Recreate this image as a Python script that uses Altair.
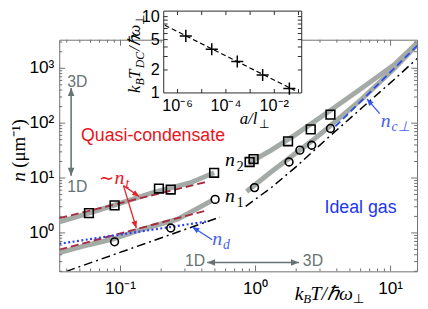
import altair as alt
import pandas as pd

# ---------------- data ----------------
# main panel: x = k_B T / hbar w_perp, y = n (um^-1)
N2_LOW_T = [0.0353, 0.0584, 0.0889, 0.174, 0.330, 0.4935]
N2_LOW_N = [1.58, 2.29, 3.18, 5.45, 8.23, 12.45]
N2_HIGH_T = [0.889, 1.309, 1.992, 3.467, 6.141, 10.69, 15.74]
N2_HIGH_N = [18.8, 32.2, 62.4, 161.6, 435.6, 1175, 2917]
N1_LOW_T = [0.0353, 0.0584, 0.0889, 0.140, 0.265, 0.330, 0.4775]
N1_LOW_N = [0.4375, 0.609, 0.780, 1.132, 1.784, 2.38, 3.91]
N1_HIGH_T = [0.859, 1.309, 1.992, 2.650, 3.467, 6.141, 10.69, 15.74]
N1_HIGH_N = [5.68, 12.98, 28.5, 48.7, 83.4, 276.5, 996, 2686]

SQ_T = [0.0584, 0.0904, 0.1926, 0.2355, 0.4935, 0.904, 0.967, 1.741, 2.563, 3.587]
SQ_N = [2.29, 3.18, 6.43, 6.17, 12.45, 19.6, 22.2, 46.7, 76.8, 142.7]
CI_T = [0.0904, 0.2355, 0.502, 0.983, 1.771, 2.130, 2.607, 3.587]
CI_N = [0.689, 1.23, 4.08, 6.70, 19.6, 32.2, 39.6, 80.0]

NT_UP_T = [0.0353, 0.4385]
NT_UP_N = [1.86, 8.58]
NT_LO_T = [0.0353, 0.4385]
NT_LO_N = [0.495, 2.59]
ND_T = [0.0353, 0.454]
ND_N = [0.635, 1.64]
IDEAL1D_T = [0.0397, 0.5455]
IDEAL1D_N = [0.1995, 1.94]
IDEAL3D_T = [0.845, 1.309, 1.992, 3.467, 6.141, 10.69, 15.74]
IDEAL3D_N = [3.053, 6.70, 15.96, 55.1, 190.6, 632, 1506]
NC_T = [3.90, 15.74]
NC_N = [86.9, 2578]

X_TICKS = [0.1, 1, 10]
X_LABELS = ["10⁻¹", "10⁰", "10¹"]
Y_TICKS = [1, 10, 100, 1000]
Y_LABELS = ["10⁰", "10¹", "10²", "10³"]
X_DOMAIN = [0.0352, 15.7]
Y_DOMAIN = [0.1995, 3311]

# inset: x = a / l_perp, y = k_B T_DC / hbar w_perp
IN_A = [2.2e-6, 2.6e-5, 2.95e-4, 3.3e-3, 4.2e-2]
IN_T = [5.59, 3.74, 2.58, 1.72, 1.14]
FIT_A = [2.98e-7, 0.0708]
FIT_T = [7.70, 1.079]
IX_TICKS = [1e-6, 1e-4, 1e-2]
IX_LABELS = ["10⁻⁶", "10⁻⁴", "10⁻²"]
IY_TICKS = [1, 2, 5, 10]
IY_LABELS = ["1", "2", "5", "10"]
IX_DOMAIN = [2.69e-7, 0.136]
IY_DOMAIN = [1, 11.8]

# annotation arrows (data coordinates)
V_ARROW = [(0.0431, 435.6), (0.0431, 11.0)]
H_ARROW = [(0.4385, 0.2893), (2.095, 0.2893)]
NT_ARROW_1 = [(0.1052, 7.275), (0.1376, 4.616)]
NT_ARROW_2 = [(0.1052, 7.275), (0.1309, 1.23)]
ND_ARROW = [(0.4775, 0.7485), (0.341, 1.281)]
NC_ARROW = [(8.31, 148.7), (6.68, 276.5)]

# ---------------- styles ----------------
SANS = "Liberation Sans"
SERIF = "Liberation Serif"
GRAY_CURVE = "#a4aaa6"
DARK_RED = "#a82a3e"
RED = "#e8141c"
BLUE = "#2236f0"
LIGHT_BLUE = "#4862ee"
ANNOT_GRAY = "#687373"
FRAME = "#707070"
W, H = 363, 235
LEFT, TOP = 60, 38          # page position of the plot area
HEAD = "M0,0L-0.42,1L0.42,1Z"

XS = alt.Scale(type="log", domain=X_DOMAIN, nice=False)
YS = alt.Scale(type="log", domain=Y_DOMAIN, nice=False)
IXS = alt.Scale(type="log", domain=IX_DOMAIN, nice=False, range=[166 - LEFT, 306 - LEFT])
IYS = alt.Scale(type="log", domain=IY_DOMAIN, nice=False, range=[92 - TOP, 9 - TOP])


def segs(*pairs):
    frames = []
    for k, (ts, ns) in enumerate(pairs):
        frames.append(pd.DataFrame({"T": ts, "n": ns, "k": k, "i": range(len(ts))}))
    return pd.concat(frames, ignore_index=True)


def lines(df, xs=XS, ys=YS, **mk):
    return alt.Chart(df).mark_line(clip=True, **mk).encode(
        x=alt.X("T:Q", scale=xs, axis=None), y=alt.Y("n:Q", scale=ys, axis=None),
        detail="k:N", order="i:Q")


def arrow(pts, color, angles, width=1.4, hsize=196):
    df = pd.DataFrame({"T": [p[0] for p in pts], "n": [p[1] for p in pts], "k": 0, "i": [0, 1]})
    shaft = lines(df, color=color, strokeWidth=width)
    heads = pd.DataFrame({"T": [pts[j][0] for j in angles], "n": [pts[j][1] for j in angles],
                          "a": [angles[j] for j in angles]})
    hd = alt.Chart(heads).mark_point(shape=HEAD, filled=True, size=hsize, color=color,
                                     opacity=1, strokeWidth=0).encode(
        x=alt.X("T:Q", scale=XS, axis=None), y=alt.Y("n:Q", scale=YS, axis=None),
        angle=alt.Angle("a:Q", scale=None))
    return [shaft, hd]


def dtext(x, y, s, size, color, italic=False, font=SANS, dx=0, dy=0, align="left",
          baseline="alphabetic", xs=XS, ys=YS):
    xs_ = x if isinstance(x, list) else [x]
    ys_ = y if isinstance(y, list) else [y]
    ss_ = s if isinstance(s, list) else [s]
    n = max(len(xs_), len(ys_), len(ss_))
    df = pd.DataFrame({"x": xs_ * (n // len(xs_)), "y": ys_ * (n // len(ys_)),
                       "s": ss_ * (n // len(ss_))})
    return alt.Chart(df).mark_text(
        align=align, baseline=baseline, font=font, fontSize=size, color=color,
        fontStyle="italic" if italic else "normal", dx=dx, dy=dy).encode(
        x=alt.X("x:Q", scale=xs, axis=None), y=alt.Y("y:Q", scale=ys, axis=None), text="s:N")


def ptext(px, py, s, size, italic=True, angle=0, color="black", font=SERIF):
    return alt.Chart(pd.DataFrame({"s": [s]})).mark_text(
        align="left", baseline="alphabetic", font=font, fontSize=size, color=color,
        fontStyle="italic" if italic else "normal", angle=angle).encode(
        x=alt.value(px - LEFT), y=alt.value(py - TOP), text="s:N")


def ticks(values, edge, length, sign, orient, xs, ys, color):
    df = pd.DataFrame({"v": values, "e": [edge] * len(values)})
    if orient == "vertical":
        return alt.Chart(df).mark_tick(orient="vertical", size=length, thickness=1, color=color,
                                       opacity=1, yOffset=sign * length / 2).encode(
            x=alt.X("v:Q", scale=xs, axis=None), y=alt.Y("e:Q", scale=ys, axis=None))
    return alt.Chart(df).mark_tick(orient="horizontal", size=length, thickness=1, color=color,
                                   opacity=1, xOffset=sign * length / 2).encode(
        x=alt.X("e:Q", scale=xs, axis=None), y=alt.Y("v:Q", scale=ys, axis=None))


mx_minor = [m * 10 ** e for e in (-2, -1, 0, 1) for m in range(2, 10)
            if X_DOMAIN[0] < m * 10 ** e < X_DOMAIN[1]]
my_minor = [m * 10 ** e for e in (-1, 0, 1, 2, 3) for m in range(2, 10)
            if Y_DOMAIN[0] < m * 10 ** e < Y_DOMAIN[1]]

main_layers = [
    lines(segs((N2_LOW_T, N2_LOW_N), (N2_HIGH_T, N2_HIGH_N), (N1_LOW_T, N1_LOW_N),
               (N1_HIGH_T, N1_HIGH_N)), color=GRAY_CURVE, strokeWidth=5),
    lines(segs((NT_UP_T, NT_UP_N), (NT_LO_T, NT_LO_N)), color=DARK_RED, strokeWidth=1.9,
          strokeDash=[8, 4]),
    lines(segs((ND_T, ND_N)), color="#2b40f5", strokeWidth=2.2, strokeDash=[2, 2.5]),
    lines(segs((IDEAL1D_T, IDEAL1D_N), (IDEAL3D_T, IDEAL3D_N)), color="black",
          strokeWidth=1.5, strokeDash=[9, 4, 2, 4]),
    lines(segs((NC_T, NC_N)), color="#2a4de8", strokeWidth=1.8, strokeDash=[7, 4]),
    alt.Chart(pd.DataFrame({"T": SQ_T, "n": SQ_N})).mark_point(
        shape="square", filled=False, size=78, color="black", strokeWidth=1.6, opacity=1).encode(
        x=alt.X("T:Q", scale=XS, axis=None), y=alt.Y("n:Q", scale=YS, axis=None)),
    alt.Chart(pd.DataFrame({"T": CI_T, "n": CI_N})).mark_point(
        shape="circle", filled=False, size=62, color="black", strokeWidth=1.6, opacity=1).encode(
        x=alt.X("T:Q", scale=XS, axis=None), y=alt.Y("n:Q", scale=YS, axis=None)),
    # inward frame ticks
    ticks(X_TICKS, Y_DOMAIN[0], 6, -1, "vertical", XS, YS, FRAME),
    ticks(mx_minor, Y_DOMAIN[0], 3, -1, "vertical", XS, YS, FRAME),
    ticks(X_TICKS, Y_DOMAIN[1], 6, 1, "vertical", XS, YS, FRAME),
    ticks(mx_minor, Y_DOMAIN[1], 3, 1, "vertical", XS, YS, FRAME),
    ticks(Y_TICKS, X_DOMAIN[0], 6, 1, "horizontal", XS, YS, FRAME),
    ticks(my_minor, X_DOMAIN[0], 3, 1, "horizontal", XS, YS, FRAME),
    ticks(Y_TICKS, X_DOMAIN[1], 6, -1, "horizontal", XS, YS, FRAME),
    ticks(my_minor, X_DOMAIN[1], 3, -1, "horizontal", XS, YS, FRAME),
    # tick labels
    dtext(X_TICKS, Y_DOMAIN[0], X_LABELS, 17.5, "black", align="center", dy=23),
    dtext(X_DOMAIN[0], Y_TICKS, Y_LABELS, 17.5, "black", align="right", baseline="middle",
          dx=-5),
]
main_layers += arrow(V_ARROW, ANNOT_GRAY, {0: 0, 1: 180}, width=1.6, hsize=256)
main_layers += arrow(H_ARROW, ANNOT_GRAY, {0: 270, 1: 90}, width=1.6, hsize=256)
main_layers += arrow(NT_ARROW_1, "#e02525", {1: 124.5}, width=1.3)
main_layers += arrow(NT_ARROW_2, "#e02525", {1: 163.2}, width=1.3)
main_layers += arrow(ND_ARROW, "#3358f0", {1: 303}, width=1.3)
main_layers += arrow(NC_ARROW, "#3358f0", {1: 319}, width=1.3)
main_layers += [
    dtext(0.05105, 46.73, "Quasi-condensate", 18, RED),
    dtext(3.243, 2.286, "Ideal gas", 18, BLUE),
    dtext(0.04034, 454, "3D", 16, ANNOT_GRAY),
    dtext(0.04034, 5.68, "1D", 16, ANNOT_GRAY),
    dtext(0.4243, 0.2453, "1D", 16, ANNOT_GRAY, align="right"),
    dtext(2.241, 0.2453, "3D", 16, ANNOT_GRAY),
    dtext(0.06908, 7.90, "∼", 18, RED, font=SERIF),
    dtext(0.06908, 7.90, "n", 20, RED, italic=True, font=SERIF, dx=16),
    dtext(0.06908, 7.90, "t", 14, RED, italic=True, font=SERIF, dx=27, dy=4),
    dtext(0.5939, 16.63, "n", 20, "black", italic=True, font=SERIF),
    dtext(0.5939, 16.63, "2", 14, "black", font=SERIF, dx=12, dy=5),
    dtext(0.5939, 3.603, "n", 20, "black", italic=True, font=SERIF),
    dtext(0.5939, 3.603, "1", 14, "black", font=SERIF, dx=12, dy=5),
    dtext(0.4774, 0.609, "n", 20, LIGHT_BLUE, italic=True, font=SERIF),
    dtext(0.4774, 0.609, "d", 14, LIGHT_BLUE, italic=True, font=SERIF, dx=11, dy=4),
    dtext(8.453, 83.4, "n", 20, LIGHT_BLUE, italic=True, font=SERIF),
    dtext(8.453, 83.4, "c⊥", 14, LIGHT_BLUE, italic=True, font=SERIF, dx=11, dy=4),
    # axis titles
    ptext(299, 302, "k", 20),
    ptext(307.5, 305.5, "B", 13),
    ptext(315, 302, "T/ℏω", 20),
    ptext(358, 305.5, "⊥", 13, italic=False),
    ptext(25, 182, "n", 20, angle=270),
    ptext(25, 168, "(μm⁻¹)", 19, italic=False, angle=270),
]
main = alt.layer(*main_layers)

inset_layers = [
    alt.Chart(pd.DataFrame({"x0": [IX_DOMAIN[0]], "x1": [IX_DOMAIN[1]],
                            "y0": [IY_DOMAIN[0]], "y1": [IY_DOMAIN[1]]})).mark_rect(
        fill="white", stroke="#2a2a2a", strokeWidth=1).encode(
        x=alt.X("x0:Q", scale=IXS, axis=None), x2="x1:Q",
        y=alt.Y("y0:Q", scale=IYS, axis=None), y2="y1:Q"),
    alt.Chart(pd.DataFrame({"a": FIT_A, "t": FIT_T})).mark_line(
        color="black", strokeWidth=1.2, strokeDash=[5, 3]).encode(
        x=alt.X("a:Q", scale=IXS, axis=None), y=alt.Y("t:Q", scale=IYS, axis=None)),
    alt.Chart(pd.DataFrame({"a": IN_A, "t": IN_T})).mark_point(
        shape="M-1,0L1,0M0,-1L0,1", filled=False, size=150, color="black",
        strokeWidth=1.5, opacity=1).encode(
        x=alt.X("a:Q", scale=IXS, axis=None), y=alt.Y("t:Q", scale=IYS, axis=None)),
    ticks([1e-6, 1e-5, 1e-4, 1e-3, 1e-2, 1e-1], IY_DOMAIN[0], 4, -1, "vertical", IXS, IYS, "#2a2a2a"),
    ticks([1e-6, 1e-5, 1e-4, 1e-3, 1e-2, 1e-1], IY_DOMAIN[1], 4, 1, "vertical", IXS, IYS, "#2a2a2a"),
    ticks([2, 3, 4, 5, 6, 7, 8, 9, 10], IX_DOMAIN[0], 4, 1, "horizontal", IXS, IYS, "#2a2a2a"),
    ticks([2, 3, 4, 5, 6, 7, 8, 9, 10], IX_DOMAIN[1], 4, -1, "horizontal", IXS, IYS, "#2a2a2a"),
    dtext(IX_TICKS, IY_DOMAIN[0], IX_LABELS, 16.5, "black", align="center", dy=18,
          xs=IXS, ys=IYS),
    dtext(IX_DOMAIN[0], IY_TICKS, IY_LABELS, 16.5, "black", align="right", baseline="middle",
          dx=-4, xs=IXS, ys=IYS),
    ptext(243, 124, "a/l", 17),
    ptext(262.5, 127.5, "⊥", 12, italic=False),
    ptext(142, 92, "k", 17, angle=270),
    ptext(146, 84.5, "B", 12, angle=270),
    ptext(142, 77.5, "T", 17, angle=270),
    ptext(146, 67, "DC", 12, angle=270),
    ptext(142, 49.5, "/ℏω", 17, angle=270),
    ptext(146, 23, "⊥", 12, italic=False, angle=270),
]
inset = alt.layer(*inset_layers)

chart = alt.layer(main, inset).resolve_scale(x="independent", y="independent").properties(
    width=W, height=H, autosize=alt.AutoSizeParams(type="none"),
    padding={"left": LEFT - 8, "top": TOP - 8, "right": 3, "bottom": 34},
).configure_view(stroke=FRAME, strokeWidth=1)

chart.save("out.html", embed_options={"renderer": "svg", "actions": False})
